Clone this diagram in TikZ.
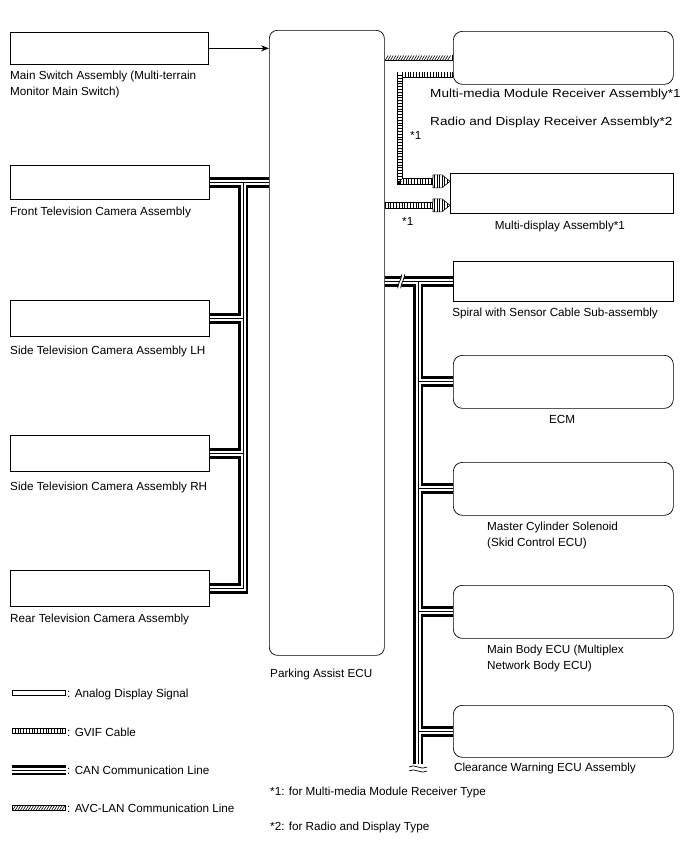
\documentclass[tikz,border=0pt]{standalone}
\usepackage{fontspec}
\setmainfont{Liberation Sans}
\usetikzlibrary{calc,arrows.meta,decorations.markings}

\begin{document}
\begin{tikzpicture}[x=1pt,y=-1pt,>={Stealth[length=8pt,width=6pt]},
  font=\fontsize{11.7}{16}\selectfont]
  \tikzstyle{box}=[draw,line width=0.7pt,anchor=north west,inner sep=0pt]
  \tikzstyle{rbox}=[box,rounded corners=9pt]
  \tikzstyle{lbl}=[inner sep=0pt,anchor=north west,align=left]
  \tikzstyle{clbl}=[inner sep=0pt,anchor=north]
  \tikzstyle{wlbl}=[lbl,xscale=1.157,transform shape]
  \tikzstyle{analog}=[line width=5.6pt,
    postaction={draw=white,line width=4.2pt,shorten <=0.7pt,shorten >=0.7pt}]
  \tikzstyle{gvif}=[line width=6.4pt,
    postaction={draw=white,line width=4.8pt,shorten <=0.7pt,shorten >=0.7pt},
    postaction={draw,line width=4.8pt,dash pattern=on 0.7pt off 2.1pt}]
  \tikzstyle{can}=[line width=10.8pt,postaction={draw=white,line width=5pt},
    postaction={draw,line width=1pt}]
  \tikzstyle{avc}=[line width=6.4pt,
    postaction={draw=white,line width=4.8pt,shorten <=0.7pt,shorten >=0.7pt},
    postaction={decorate,decoration={markings,
      mark=between positions 2pt and -2pt step 2.6pt with
      {\draw[line width=0.6pt] (-1.4pt,-2.3pt) -- (1.4pt,2.3pt);}}}]
  \tikzset{ghead/.pic={
    \begin{scope}
      \clip (-17pt,-6.5pt) -- (-8pt,-6.5pt) -- (0pt,0pt) -- (-8pt,6.5pt)
        -- (-17pt,6.5pt) -- cycle;
      \fill[white] (-17pt,-7pt) rectangle (0pt,7pt);
      \foreach \t in {-15.5,-13,...,-1}
        \draw[line width=0.6pt] (\t pt,-7pt) -- (\t pt,7pt);
    \end{scope}
    \draw[line width=0.6pt] (-17pt,-3.2pt) -- (-17pt,-6.5pt) -- (-8pt,-6.5pt)
      -- (0pt,0pt) -- (-8pt,6.5pt) -- (-17pt,6.5pt) -- (-17pt,3.2pt);
  }}
  \useasboundingbox (0,0) rectangle (688,852);

  % left column
  \node[box,minimum width=198pt,minimum height=32pt] (ms) at (10,32) {};
  \node[box,minimum width=199pt,minimum height=34pt] (fc) at (10,165) {};
  \node[box,minimum width=199pt,minimum height=36pt] (lh) at (10,300) {};
  \node[box,minimum width=199pt,minimum height=36pt] (rh) at (10,435) {};
  \node[box,minimum width=199pt,minimum height=36pt] (rr) at (10,570) {};
  % ecu
  \node[rbox,rounded corners=8pt,minimum width=115pt,minimum height=625pt] (ecu) at (269,30) {};
  % right column
  \node[rbox,minimum width=220pt,minimum height=53pt] (mm) at (453,31) {};
  \node[box,minimum width=223pt,minimum height=40pt] (md) at (450,173) {};
  \node[box,minimum width=220pt,minimum height=40pt] (sp) at (453,261) {};
  \node[rbox,minimum width=220pt,minimum height=53pt] (ecm) at (453,355) {};
  \node[rbox,minimum width=220pt,minimum height=53pt] (mc) at (453,462) {};
  \node[rbox,minimum width=220pt,minimum height=53pt] (mb) at (453,585) {};
  \node[rbox,minimum width=220pt,minimum height=52pt] (cw) at (453,705) {};

  \node[lbl] (msl) at (10,70.7) {Main Switch Assembly (Multi-terrain\\Monitor Main Switch)};
  \node[lbl] (fcl) at (10,206.7) {Front Television Camera Assembly};
  \node[lbl] (lhl) at (10,345.7) {Side Television Camera Assembly LH};
  \node[lbl] (rhl) at (10,481.7) {Side Television Camera Assembly RH};
  \node[lbl] (rrl) at (10,613.7) {Rear Television Camera Assembly};
  \node[lbl] (ecul) at (270,668.7) {Parking Assist ECU};
  \node[wlbl] (mml1) at (430,88.7) {Multi-media Module Receiver Assembly*1};
  \node[wlbl] (mml2) at (430,116.7) {Radio and Display Receiver Assembly*2};
  \node[lbl] (n1a) at (410,131.7) {*1};
  \node[lbl] (n1b) at (402,217.7) {*1};
  \node[clbl] (mdl) at (560,220.7) {Multi-display Assembly*1};
  \node[clbl] (spl) at (555,307.7) {Spiral with Sensor Cable Sub-assembly};
  \node[clbl] (ecml) at (562,414.7) {ECM};
  \node[lbl] (mcl) at (487,521.7) {Master Cylinder Solenoid\\(Skid Control ECU)};
  \node[lbl] (mbl) at (487,644.7) {Main Body ECU (Multiplex\\Network Body ECU)};
  \node[clbl] (cwl) at (545,762.7) {Clearance Warning ECU Assembly};
  \node[lbl] (fn1) at (270,786.7) {*1: for Multi-media Module Receiver Type};
  \node[lbl] (fn2) at (270,821.7) {*2: for Radio and Display Type};

  % main switch
  \draw[->,line width=0.6pt] (ms.east) -- (ms.east -| ecu.west);

  % cameras
  \coordinate (lt) at (243,0);
  \draw[can] (fc.east) -- (fc.east -| ecu.west)
    (fc.east -| lt) -- (rr.east -| lt) -- (rr.east)
    (lh.east) -- (lh.east -| lt)
    (rh.east) -- (rh.east -| lt);

  % avc-lan and gvif
  \draw[avc] (mm.west -| ecu.east) -- (mm.west);
  \coordinate (g1) at ($(mm.south west)+(0,-10)$);
  \coordinate (gx) at (400,0);
  \coordinate (h1) at ($(md.west)+(-17,-12)$);
  \coordinate (h2) at ($(md.west)+(-17,12)$);
  \draw[gvif] (g1) -- (g1 -| gx) -- (h1 -| gx) -- (h1);
  \draw[gvif] (h2 -| ecu.east) -- (h2);
  \pic at ($(md.west)+(0,-12)$) {ghead};
  \pic at ($(md.west)+(0,12)$) {ghead};

  % can bus
  \coordinate (rt) at (418,0);
  \coordinate (cb) at (418,764);
  \draw[can] (sp.west -| ecu.east) -- (sp.west)
    (sp.west -| rt) -- (cb)
    (ecm.west -| rt) -- (ecm.west)
    (mc.west -| rt) -- (mc.west)
    (mb.west -| rt) -- (mb.west)
    (cw.west -| rt) -- (cw.west);
  \coordinate (brk) at ($(sp.west -| ecu.east)+(16,0)$);
  \fill[white] ([shift={(-3,7)}]brk) -- ([shift={(1,-7)}]brk)
    -- ([shift={(4,-7)}]brk) -- ([shift={(0,7)}]brk) -- cycle;
  \foreach \d in {0,3}
    \draw[line width=0.7pt] ([shift={(-3+\d,7)}]brk) .. controls ([shift={(-3+\d,1)}]brk)
      and ([shift={(1+\d,-1)}]brk) .. ([shift={(1+\d,-7)}]brk);
  \foreach \d in {3,7}
    \draw[line width=0.7pt] ([shift={(-9,\d)}]cb) .. controls ([shift={(-4,\d-4)}]cb)
      and ([shift={(4,\d+4)}]cb) .. ([shift={(9,\d)}]cb);

  % legend
  \coordinate (a1) at (12,693);  \coordinate (a2) at (66,693);
  \coordinate (b1) at (12,731);  \coordinate (b2) at (66,731);
  \coordinate (c1) at (12,770);  \coordinate (c2) at (66,770);
  \coordinate (d1) at (12,808);  \coordinate (d2) at (66,808);
  \draw[analog] (a1) -- (a2);
  \draw[gvif] (b1) -- (b2);
  \draw[can] (c1) -- (c2);
  \draw[avc] (d1) -- (d2);
  \node[lbl] (al) at (67,688.4) {: Analog Display Signal};
  \node[lbl] (bl) at (67,727.4) {: GVIF Cable};
  \node[lbl] (cl) at (67,765.7) {: CAN Communication Line};
  \node[lbl] (dl) at (67,803.4) {: AVC-LAN Communication Line};
\end{tikzpicture}
\end{document}
